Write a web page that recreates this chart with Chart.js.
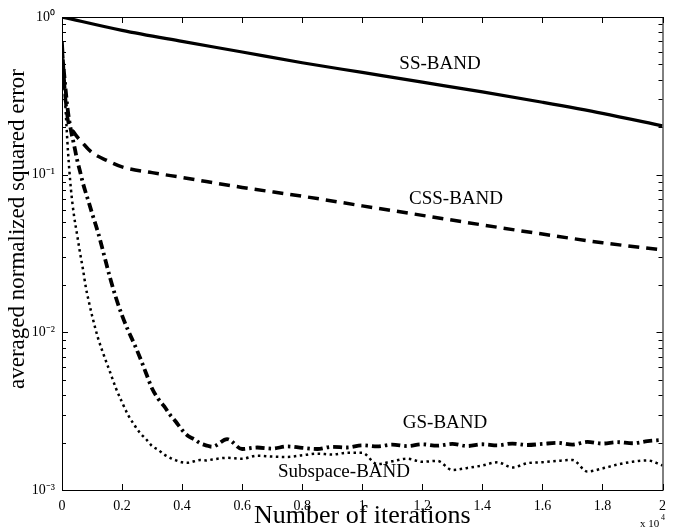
<!DOCTYPE html>
<html>
<head>
<meta charset="utf-8">
<script src="https://cdn.jsdelivr.net/npm/chart.js@4.4.1/dist/chart.umd.min.js"></script>
<style>
  body { margin: 0; background: #fff; }
  canvas { display: block; }
</style>
</head>
<body>
<canvas id="chart" width="674" height="529"></canvas>
<script>
// iterations are in units of 10^4
const ssIter = [0, 0.2, 0.4, 0.6, 0.8, 1, 1.2, 1.4, 1.6, 1.8, 2];
const ssError = [1, 0.822, 0.70, 0.60, 0.513, 0.445, 0.386, 0.335, 0.288, 0.245, 0.204];

const cssIter = [0, 0.01, 0.02, 0.04, 0.07, 0.1, 0.15, 0.2, 0.3, 0.4, 0.6, 0.8, 1, 1.2, 1.4, 1.6, 1.8, 2];
const cssError = [0.7, 0.33, 0.22, 0.185, 0.158, 0.138, 0.123, 0.112, 0.103, 0.096, 0.083, 0.073, 0.0634, 0.0552, 0.048, 0.042, 0.037, 0.0333];

// shared by GS-BAND and Subspace-BAND
const bandIter = [0, 0.01, 0.02, 0.03, 0.04, 0.05, 0.06, 0.07, 0.08, 0.09, 0.1,
  0.12, 0.14, 0.16, 0.18, 0.2, 0.22, 0.24, 0.26, 0.28, 0.3, 0.32, 0.34, 0.36, 0.38, 0.4, 0.42, 0.44, 0.46, 0.48, 0.5,
  0.55, 0.6, 0.65, 0.7, 0.75, 0.8, 0.85, 0.9, 0.95, 1, 1.05, 1.1, 1.15, 1.2, 1.25, 1.3, 1.35, 1.4, 1.45, 1.5,
  1.55, 1.6, 1.65, 1.7, 1.75, 1.8, 1.85, 1.9, 1.95, 2];

const gsError = [0.62, 0.38, 0.25, 0.19, 0.155, 0.125, 0.105, 0.088, 0.076, 0.066, 0.057,
  0.043, 0.031, 0.0222, 0.0165, 0.0128, 0.0103, 0.0085, 0.0069, 0.0055, 0.0044, 0.0038, 0.0034, 0.003, 0.0027, 0.0024, 0.0022, 0.0021, 0.00198, 0.00192, 0.00188,
  0.0021, 0.00182, 0.00186, 0.00183, 0.00189, 0.00185, 0.00182, 0.00188, 0.00186, 0.00192, 0.00189, 0.00194, 0.0019, 0.00195, 0.00191, 0.00196, 0.0019, 0.00195, 0.00192, 0.00197,
  0.00193, 0.00196, 0.00199, 0.00194, 0.00202, 0.00197, 0.00201, 0.00198, 0.00204, 0.00208];

const subspaceError = [0.6, 0.3, 0.14, 0.08, 0.055, 0.042, 0.032, 0.025, 0.019, 0.0155, 0.0128,
  0.0092, 0.0071, 0.0056, 0.0044, 0.0036, 0.003, 0.0026, 0.0023, 0.0021, 0.0019, 0.0018, 0.00168, 0.0016, 0.00154, 0.0015, 0.00149, 0.00152, 0.00155, 0.00154, 0.00156,
  0.0016, 0.00158, 0.00165, 0.00163, 0.00162, 0.00166, 0.0017, 0.00168, 0.00172, 0.00172, 0.00146, 0.00152, 0.00158, 0.00151, 0.00153, 0.00134, 0.00138, 0.00143, 0.0015, 0.00139,
  0.00148, 0.0015, 0.00153, 0.00155, 0.00131, 0.00137, 0.00145, 0.00151, 0.00154, 0.00143];

const xTicks = [0, 0.2, 0.4, 0.6, 0.8, 1, 1.2, 1.4, 1.6, 1.8, 2];
const yDecades = [0.001, 0.01, 0.1, 1];

const pairs = (xs, ys) => xs.map((x, i) => ({x: x, y: ys[i]}));

const SUP = {'0': '\u2070', '1': '\u00b9', '2': '\u00b2', '3': '\u00b3', '4': '\u2074', '-': '\u207b'};
const sup = s => String(s).split('').map(c => SUP[c]).join('');

const isDecade = v => Math.abs(Math.log10(v) - Math.round(Math.log10(v))) < 1e-9;

const serif = '"Liberation Serif", "Times New Roman", serif';
Chart.defaults.font.family = serif;
Chart.defaults.color = '#000';

// matlab style box with inward ticks, plus the curve labels
const frame = {
  id: 'frame',
  afterDatasetsDraw(chart) {
    const {ctx, chartArea: a, scales: {x, y}} = chart;
    ctx.save();
    ctx.strokeStyle = '#000';
    ctx.lineWidth = 1;
    ctx.strokeRect(a.left + 0.5, a.top + 0.5, a.right - a.left, a.bottom - a.top);
    ctx.beginPath();
    x.ticks.forEach(t => {
      const px = Math.round(x.getPixelForValue(t.value)) + 0.5;
      ctx.moveTo(px, a.bottom); ctx.lineTo(px, a.bottom - 6);
      ctx.moveTo(px, a.top); ctx.lineTo(px, a.top + 6);
    });
    y.ticks.forEach(t => {
      const py = Math.round(y.getPixelForValue(t.value)) + 0.5;
      const len = isDecade(t.value) ? 6 : 4;
      ctx.moveTo(a.left, py); ctx.lineTo(a.left + len, py);
      ctx.moveTo(a.right, py); ctx.lineTo(a.right - len, py);
    });
    ctx.stroke();
    ctx.restore();
  },
  afterDraw(chart) {
    const ctx = chart.ctx;
    ctx.save();
    ctx.fillStyle = '#000';
    ctx.font = '19px ' + serif;
    ctx.textAlign = 'center';
    ctx.textBaseline = 'middle';
    ctx.fillText('SS-BAND', 440, 64);
    ctx.fillText('CSS-BAND', 456, 199);
    ctx.fillText('GS-BAND', 445, 423);
    ctx.fillText('Subspace-BAND', 344, 472);

    // y axis title
    ctx.save();
    ctx.translate(18, 229);
    ctx.rotate(-Math.PI / 2);
    ctx.font = '23px ' + serif;
    ctx.fillText('averaged normalized squared error', 0, 0);
    ctx.restore();

    ctx.textAlign = 'left';
    ctx.textBaseline = 'alphabetic';
    ctx.font = '11px ' + serif;
    ctx.fillText('x 10', 640, 527);
    ctx.font = '8px ' + serif;
    ctx.fillText('4', 661, 520);
    ctx.restore();
  }
};

new Chart(document.getElementById('chart'), {
  type: 'line',
  data: {
    datasets: [
      {label: 'SS-BAND', data: pairs(ssIter, ssError), borderColor: '#000', borderWidth: 3.2,
        pointRadius: 0, cubicInterpolationMode: 'monotone'},
      {label: 'CSS-BAND', data: pairs(cssIter, cssError), borderColor: '#000', borderWidth: 3.5,
        borderDash: [11, 7], pointRadius: 0, cubicInterpolationMode: 'monotone'},
      {label: 'GS-BAND', data: pairs(bandIter, gsError), borderColor: '#000', borderWidth: 3.8,
        borderDash: [9, 4, 2.5, 4], pointRadius: 0, cubicInterpolationMode: 'monotone'},
      {label: 'Subspace-BAND', data: pairs(bandIter, subspaceError), borderColor: '#000', borderWidth: 2.5,
        borderDash: [2.5, 3.5], pointRadius: 0, cubicInterpolationMode: 'monotone'}
    ]
  },
  options: {
    responsive: false,
    animation: false,
    layout: {padding: {top: 17, right: 9, left: 0, bottom: 0}},
    plugins: {legend: {display: false}, tooltip: {enabled: false}},
    scales: {
      x: {
        type: 'linear', min: 0, max: 2,
        afterBuildTicks: s => { s.ticks = xTicks.map(v => ({value: v})); },
        afterFit: s => { s.height = 39; },
        grid: {display: false, drawTicks: false},
        border: {display: false},
        ticks: {padding: 8, font: {size: 14}, maxRotation: 0, autoSkip: false, callback: v => String(v)},
        title: {display: true, text: 'Number of iterations', font: {size: 26, lineHeight: 1}, padding: 0}
      },
      y: {
        type: 'logarithmic', min: 0.001, max: 1,
        afterBuildTicks: s => {
          const t = [];
          yDecades.forEach((d, i) => {
            if (i === yDecades.length - 1) { t.push({value: d, major: true}); return; }
            for (let m = 1; m <= 9; m++) t.push({value: d * m, major: m === 1});
          });
          s.ticks = t;
        },
        afterFit: s => { s.width = 62; },
        grid: {display: false, drawTicks: false},
        border: {display: false},
        ticks: {padding: 7, font: {size: 14}, autoSkip: false,
          callback: v => isDecade(v) ? '10' + sup(Math.round(Math.log10(v))) : ''},
        title: {display: false}
      }
    }
  },
  plugins: [frame]
});
</script>
</body>
</html>
